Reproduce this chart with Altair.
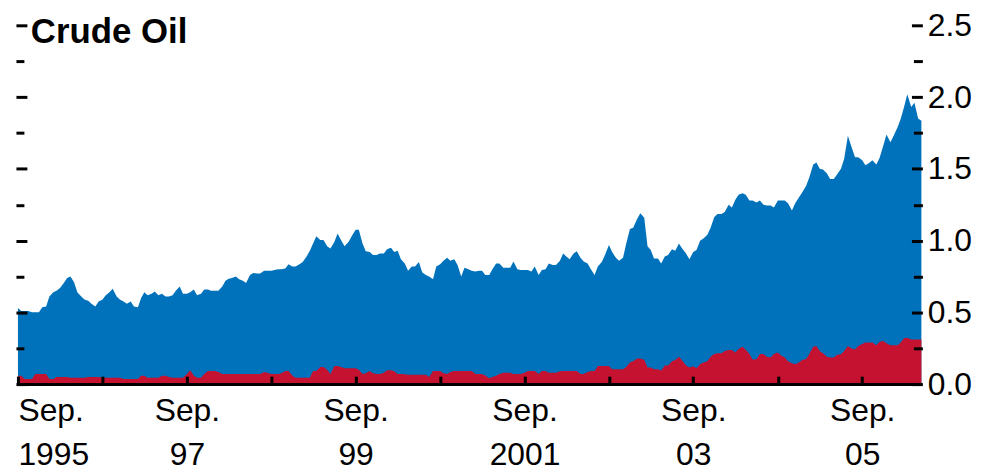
import altair as alt
import pandas as pd

# Semi-monthly observations starting Sep 1995 (1st and 15th of each month)
START = "1995-09-01"

# Top of the blue area (total)
blue_total = [
    0.53, 0.51, 0.51, 0.51, 0.50, 0.50, 0.50, 0.535, 0.54, 0.61,
    0.64, 0.65, 0.67, 0.70, 0.74, 0.75, 0.71, 0.64, 0.61, 0.59,
    0.58, 0.56, 0.54, 0.575, 0.59, 0.62, 0.64, 0.665, 0.61, 0.59,
    0.575, 0.56, 0.575, 0.54, 0.535, 0.60, 0.64, 0.62, 0.63, 0.645,
    0.62, 0.63, 0.61, 0.61, 0.62, 0.65, 0.68, 0.63, 0.63, 0.64,
    0.66, 0.62, 0.63, 0.66, 0.66, 0.65, 0.65, 0.65, 0.68, 0.72,
    0.735, 0.74, 0.75, 0.73, 0.72, 0.705, 0.76, 0.775, 0.77, 0.77,
    0.79, 0.79, 0.79, 0.795, 0.80, 0.80, 0.805, 0.835, 0.82, 0.82,
    0.835, 0.85, 0.89, 0.93, 0.98, 1.03, 1.005, 1.005, 0.96, 0.945,
    0.99, 1.05, 1.0, 0.96, 0.99, 1.03, 1.075, 1.075, 0.98, 0.925,
    0.92, 0.90, 0.90, 0.91, 0.91, 0.94, 0.95, 0.92, 0.93, 0.87,
    0.84, 0.79, 0.82, 0.82, 0.85, 0.78, 0.76, 0.75, 0.73, 0.82,
    0.835, 0.86, 0.88, 0.86, 0.87, 0.83, 0.75, 0.81, 0.80, 0.79,
    0.785, 0.79, 0.79, 0.76, 0.76, 0.80, 0.84, 0.84, 0.81, 0.81,
    0.81, 0.855, 0.80, 0.795, 0.795, 0.795, 0.785, 0.82, 0.76, 0.795,
    0.80, 0.84, 0.83, 0.83, 0.86, 0.91, 0.89, 0.87, 0.91, 0.925,
    0.88, 0.855, 0.84, 0.80, 0.76, 0.82, 0.85, 0.90, 0.97, 0.92,
    0.88, 0.86, 0.88, 0.98, 1.08, 1.09, 1.15, 1.19, 1.16, 0.96,
    0.935, 0.875, 0.875, 0.84, 0.89, 0.90, 0.94, 0.93, 0.98, 0.945,
    0.91, 0.87, 0.92, 0.935, 1.0, 1.015, 1.04, 1.09, 1.165, 1.185,
    1.185, 1.20, 1.25, 1.23, 1.285, 1.32, 1.33, 1.32, 1.28, 1.28,
    1.265, 1.28, 1.25, 1.245, 1.245, 1.23, 1.28, 1.28, 1.28, 1.26,
    1.21, 1.26, 1.30, 1.335, 1.38, 1.44, 1.53, 1.545, 1.50, 1.495,
    1.47, 1.43, 1.43, 1.46, 1.50, 1.57, 1.73, 1.66, 1.58, 1.58,
    1.56, 1.525, 1.54, 1.56, 1.53, 1.575, 1.66, 1.74, 1.685, 1.73,
    1.79, 1.85, 1.93, 2.02, 1.93, 1.96, 1.85, 1.835,
]

# Top of the red area
red_part = [
    0.058, 0.058, 0.035, 0.035, 0.035, 0.07, 0.07, 0.07, 0.07, 0.035,
    0.035, 0.05, 0.05, 0.05, 0.05, 0.045, 0.045, 0.045, 0.045, 0.045,
    0.05, 0.05, 0.05, 0.05, 0.045, 0.045, 0.045, 0.045, 0.045, 0.045,
    0.035, 0.035, 0.035, 0.035, 0.035, 0.058, 0.058, 0.045, 0.045, 0.045,
    0.045, 0.058, 0.058, 0.05, 0.045, 0.045, 0.045, 0.045, 0.07, 0.097,
    0.06, 0.045, 0.045, 0.07, 0.092, 0.092, 0.092, 0.085, 0.07, 0.07,
    0.07, 0.07, 0.07, 0.07, 0.07, 0.07, 0.07, 0.07, 0.07, 0.07,
    0.085, 0.08, 0.07, 0.07, 0.07, 0.075, 0.092, 0.092, 0.06, 0.045,
    0.045, 0.045, 0.045, 0.045, 0.092, 0.092, 0.12, 0.12, 0.10, 0.07,
    0.127, 0.127, 0.12, 0.11, 0.11, 0.11, 0.11, 0.10, 0.07, 0.075,
    0.092, 0.075, 0.07, 0.07, 0.08, 0.097, 0.097, 0.09, 0.07, 0.07,
    0.068, 0.065, 0.065, 0.065, 0.065, 0.065, 0.065, 0.05, 0.092, 0.092,
    0.092, 0.075, 0.07, 0.085, 0.092, 0.092, 0.092, 0.092, 0.092, 0.092,
    0.07, 0.07, 0.07, 0.06, 0.04, 0.05, 0.058, 0.07, 0.08, 0.08,
    0.08, 0.07, 0.07, 0.07, 0.08, 0.092, 0.092, 0.092, 0.07, 0.092,
    0.092, 0.08, 0.08, 0.08, 0.09, 0.092, 0.092, 0.092, 0.092, 0.092,
    0.07, 0.07, 0.085, 0.092, 0.092, 0.127, 0.127, 0.127, 0.127, 0.104,
    0.104, 0.104, 0.104, 0.12, 0.15, 0.16, 0.178, 0.178, 0.17, 0.115,
    0.115, 0.104, 0.104, 0.095, 0.13, 0.13, 0.16, 0.168, 0.19, 0.165,
    0.13, 0.115, 0.125, 0.11, 0.14, 0.15, 0.16, 0.19, 0.21, 0.215,
    0.215, 0.23, 0.237, 0.237, 0.22, 0.245, 0.26, 0.24, 0.21, 0.17,
    0.175, 0.21, 0.21, 0.19, 0.185, 0.21, 0.22, 0.20, 0.185, 0.16,
    0.145, 0.138, 0.15, 0.168, 0.175, 0.21, 0.26, 0.265, 0.23, 0.215,
    0.19, 0.185, 0.185, 0.205, 0.208, 0.23, 0.265, 0.25, 0.242, 0.265,
    0.28, 0.29, 0.29, 0.29, 0.27, 0.295, 0.30, 0.285, 0.27, 0.27,
    0.27, 0.29, 0.32, 0.323, 0.31, 0.31, 0.31, 0.31,
]

tick_years = list(range(1995, 2006))
label_years = [1995, 1997, 1999, 2001, 2003, 2005]
label_texts = ["1995", "97", "99", "2001", "03", "05"]
y_major = [0.0, 0.5, 1.0, 1.5, 2.0, 2.5]
y_all = [0.0, 0.25, 0.5, 0.75, 1.0, 1.25, 1.5, 1.75, 2.0, 2.25, 2.5]

dates = pd.date_range(START, periods=len(blue_total), freq="SMS")
df = pd.DataFrame({"date": dates, "total": blue_total, "red": red_part})

BLUE = "#0072BC"
RED = "#C41230"
FONT = "Liberation Sans, Arial, Helvetica, sans-serif"
W, H = 909, 361

x_scale = alt.Scale(domain=[alt.DateTime(year=1995, month=9, date=1),
                            alt.DateTime(year=2006, month=5, date=15)])
y_scale = alt.Scale(domain=[0, 2.5], nice=False, zero=True)
x_vals = [alt.DateTime(year=y, month=9, date=1) for y in tick_years]

cases = " : ".join(
    f"year(datum.value) == {yr} ? ['Sep.', '{txt}']" for yr, txt in zip(label_years, label_texts)
) + " : ''"

major_test = "abs(datum.value * 2 - round(datum.value * 2)) < 0.001"

base = alt.Chart(df)

blue = base.mark_area(color=BLUE, interpolate="linear").encode(
    x=alt.X("date:T", scale=x_scale, title=None,
            axis=alt.Axis(orient="bottom", values=x_vals, labelExpr=cases,
                          ticks=False, tickSize=0, domain=True, domainColor="black",
                          domainWidth=3, grid=False, labelFont=FONT, labelFontSize=32,
                          labelColor="black", labelLineHeight=44, labelPadding=12,
                          labelFlush=True, labelOverlap=False, labelBound=False,
                          labelAngle=0, zindex=1)),
    y=alt.Y("total:Q", scale=y_scale, title=None,
            axis=alt.Axis(orient="right", values=y_major, format=".1f", ticks=False,
                          tickSize=0, domain=False, grid=False, labelFont=FONT,
                          labelFontSize=32, labelColor="black", labelPadding=6, zindex=1)),
)

red = base.mark_area(color=RED, interpolate="linear").encode(
    x=alt.X("date:T", scale=x_scale, title=None,
            axis=alt.Axis(orient="top", offset=-H, values=x_vals, labels=False,
                          ticks=True, tickSize=8, tickWidth=3, tickColor="black",
                          domain=False, grid=False, zindex=1)),
    y=alt.Y("red:Q", scale=y_scale, title=None,
            axis=alt.Axis(orient="left", offset=-(W + 1), values=y_all, labels=False,
                          ticks=True, tickWidth=3, tickColor="black",
                          tickSize={"condition": {"test": major_test, "value": 11}, "value": 9},
                          domain=False, grid=False, zindex=1)),
)

left_ticks = base.mark_line(opacity=0).encode(
    x=alt.X("date:T", scale=x_scale, axis=None),
    y=alt.Y("red:Q", scale=y_scale, title=None,
            axis=alt.Axis(orient="right", offset=-(W + 2), values=y_all, labels=False,
                          ticks=True, tickWidth=3, tickColor="black",
                          tickSize={"condition": {"test": major_test, "value": 11}, "value": 8},
                          domain=False, grid=False, zindex=1)),
)

title = alt.Chart(pd.DataFrame({"t": ["Crude Oil"]})).mark_text(
    align="left", baseline="alphabetic", font=FONT, fontSize=35, fontWeight="bold",
    color="black",
).encode(x=alt.value(13), y=alt.value(18), text="t:N")

chart = alt.layer(blue, red, left_ticks, title).resolve_axis(
    x="independent", y="independent"
).properties(
    width=W, height=H,
    padding={"left": 10, "top": 16, "right": 62, "bottom": 86},
    autosize=alt.AutoSizeParams(type="none"),
    background="white",
).configure_view(stroke=None)

chart.save("out.html", embed_options={"renderer": "svg", "actions": False})
